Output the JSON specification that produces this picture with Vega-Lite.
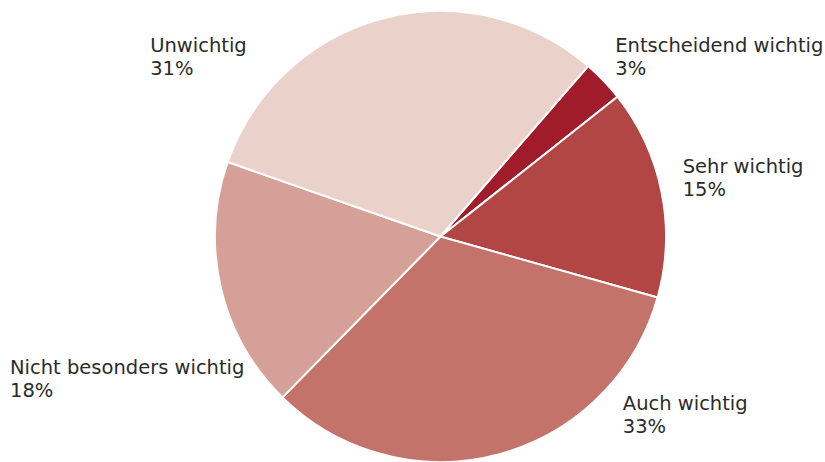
{
  "$schema": "https://vega.github.io/schema/vega-lite/v6.json",
  "width": 769,
  "height": 451,
  "autosize": "none",
  "padding": {"left": 56, "top": 11, "right": 0, "bottom": 0},
  "background": "white",
  "view": {"stroke": null},
  "config": {"text": {"font": "DejaVu Sans", "fontSize": 19.5, "color": "#2b2b2b", "align": "left", "baseline": "alphabetic", "lineBreak": "\n", "lineHeight": 23}},
  "data": {
    "values": [
      {"rank": 1, "category": "Entscheidend wichtig", "value": 3, "label": "Entscheidend wichtig\n3%"},
      {"rank": 2, "category": "Sehr wichtig", "value": 15, "label": "Sehr wichtig\n15%"},
      {"rank": 3, "category": "Auch wichtig", "value": 33, "label": "Auch wichtig\n33%"},
      {"rank": 4, "category": "Nicht besonders wichtig", "value": 18, "label": "Nicht besonders wichtig\n18%"},
      {"rank": 5, "category": "Unwichtig", "value": 31, "label": "Unwichtig\n31%"}
    ]
  },
  "encoding": {
    "theta": {"field": "value", "type": "quantitative", "stack": true, "scale": {"range": [0.7138, 6.997]}},
    "order": {"field": "rank", "type": "quantitative"}
  },
  "layer": [
    {
      "mark": {"type": "arc", "stroke": "white", "strokeWidth": 2},
      "encoding": {
        "color": {
          "field": "category", "type": "nominal", "legend": null,
          "scale": {
            "domain": ["Entscheidend wichtig", "Sehr wichtig", "Auch wichtig", "Nicht besonders wichtig", "Unwichtig"],
            "range": ["#a11c2b", "#b14644", "#c4736b", "#d4a097", "#ead1ca"]
          }
        }
      }
    },
    {
      "mark": {"type": "text", "radius": 250, "dx": -6, "dy": -12},
      "encoding": {"detail": {"field": "category"}, "text": {"condition": {"test": "datum.rank === 1", "field": "label"}, "value": ""}}
    },
    {
      "mark": {"type": "text", "radius": 250, "dx": -3, "dy": -15},
      "encoding": {"detail": {"field": "category"}, "text": {"condition": {"test": "datum.rank === 2", "field": "label"}, "value": ""}}
    },
    {
      "mark": {"type": "text", "radius": 250, "dx": 118, "dy": -68},
      "encoding": {"detail": {"field": "category"}, "text": {"condition": {"test": "datum.rank === 3", "field": "label"}, "value": ""}}
    },
    {
      "mark": {"type": "text", "radius": 250, "dx": -187, "dy": 81},
      "encoding": {"detail": {"field": "category"}, "text": {"condition": {"test": "datum.rank === 4", "field": "label"}, "value": ""}}
    },
    {
      "mark": {"type": "text", "radius": 250, "dx": -226, "dy": 57},
      "encoding": {"detail": {"field": "category"}, "text": {"condition": {"test": "datum.rank === 5", "field": "label"}, "value": ""}}
    }
  ]
}
